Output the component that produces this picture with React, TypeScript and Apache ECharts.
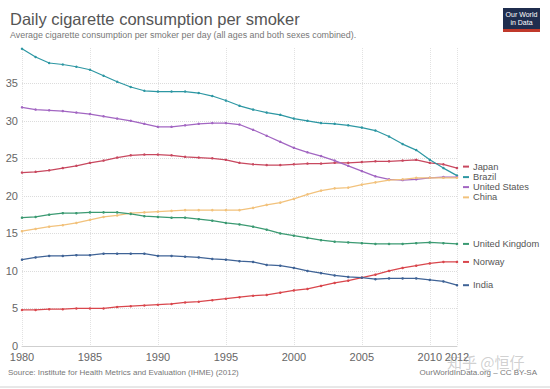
import React, { useEffect, useRef } from "react";
import * as echarts from "echarts";

const years = [1980,1981,1982,1983,1984,1985,1986,1987,1988,1989,1990,1991,1992,1993,1994,1995,1996,1997,1998,1999,2000,2001,2002,2003,2004,2005,2006,2007,2008,2009,2010,2011,2012];

const japan = [23.1,23.2,23.4,23.7,24.0,24.4,24.7,25.1,25.4,25.5,25.5,25.4,25.2,25.1,25.0,24.8,24.4,24.2,24.1,24.1,24.2,24.3,24.3,24.4,24.4,24.5,24.6,24.6,24.7,24.8,24.4,24.2,23.7];
const brazil = [39.6,38.5,37.7,37.5,37.2,36.8,36.0,35.2,34.5,34.0,33.9,33.9,33.9,33.7,33.3,32.7,32.0,31.5,31.1,30.8,30.3,30.0,29.7,29.6,29.4,29.1,28.7,27.9,26.9,26.1,24.8,23.7,22.7];
const unitedStates = [31.8,31.5,31.4,31.3,31.1,30.9,30.6,30.3,30.0,29.6,29.2,29.2,29.4,29.6,29.7,29.7,29.5,28.8,28.0,27.2,26.4,25.8,25.3,24.7,24.0,23.3,22.6,22.2,22.1,22.2,22.4,22.5,22.5];
const china = [15.3,15.6,15.9,16.1,16.4,16.8,17.2,17.4,17.7,17.8,17.9,18.0,18.1,18.1,18.1,18.1,18.1,18.4,18.8,19.1,19.6,20.2,20.7,21.0,21.1,21.5,21.8,22.1,22.2,22.4,22.4,22.4,22.4];
const unitedKingdom = [17.1,17.2,17.5,17.7,17.7,17.8,17.8,17.8,17.6,17.3,17.2,17.1,17.1,16.9,16.7,16.4,16.2,15.9,15.5,15.0,14.7,14.4,14.1,13.9,13.8,13.7,13.6,13.6,13.6,13.7,13.8,13.7,13.6];
const norway = [4.8,4.8,4.9,4.9,5.0,5.0,5.0,5.2,5.3,5.4,5.5,5.6,5.8,5.9,6.1,6.3,6.5,6.7,6.8,7.1,7.4,7.6,8.0,8.4,8.7,9.1,9.5,10.0,10.4,10.7,11.0,11.2,11.2];
const india = [11.5,11.8,12.0,12.0,12.1,12.1,12.3,12.3,12.3,12.3,12.0,12.0,11.9,11.8,11.6,11.5,11.3,11.2,10.8,10.7,10.4,10.0,9.7,9.4,9.2,9.1,8.9,9.0,9.0,9.0,8.8,8.6,8.1];

const seriesNames = ["Japan", "Brazil", "United States", "China", "United Kingdom", "Norway", "India"];
const seriesValues = [japan, brazil, unitedStates, china, unitedKingdom, norway, india];
const yGridTicks = [5, 10, 15, 20, 25, 30, 35];

const colors = ["#c8485f", "#2d97a3", "#a266c2", "#f2c27c", "#3b9a72", "#d9464c", "#3f6396"];
const labelOffsets = [[0, -1.5], [0, 1.5], [0, 10], [0, 19.5], [0, 0], [0, 0], [0, 0]];

const FONT = "'Liberation Sans', Arial, sans-serif";

export default function App() {
  const ref = useRef<HTMLDivElement>(null);
  useEffect(() => {
    if (!ref.current) return;
    const chart = echarts.init(ref.current, undefined, { renderer: "svg" });
    const series: any[] = seriesNames.map((name, i) => ({
      name,
      type: "line",
      data: years.map((y, k) => [y, seriesValues[i][k]]),
      showSymbol: true,
      symbol: "circle",
      symbolSize: 2.5,
      lineStyle: { color: colors[i], width: 1.2 },
      itemStyle: { color: colors[i] },
      z: 3,
      endLabel: {
        show: true,
        distance: 6,
        offset: labelOffsets[i],
        formatter: () => `{d|}{n|${name}}`,
        rich: {
          d: { backgroundColor: colors[i], width: 6, height: 2 },
          n: { color: "#555", fontSize: 9.3, lineHeight: 9, fontFamily: FONT, padding: [0, 0, 0, 4] },
        },
      },
      markLine: i === 0 ? {
        silent: true,
        symbol: ["none", "none"],
        label: { show: false },
        lineStyle: { color: "#dcdcdc", type: "dotted", width: 1 },
        data: yGridTicks.map((v) => ({ yAxis: v })),
        z: 1,
      } : undefined,
    }));
    chart.setOption({
      animation: false,
      backgroundColor: "#fff",
      textStyle: { fontFamily: FONT },
      title: {
        text: "Daily cigarette consumption per smoker",
        subtext: "Average cigarette consumption per smoker per day (all ages and both sexes combined).",
        left: 5,
        top: 5,
        itemGap: 3,
        textStyle: { fontSize: 16.5, fontWeight: "normal", color: "#555", fontFamily: FONT },
        subtextStyle: { fontSize: 8.9, color: "#777", fontFamily: FONT },
      },
      grid: { left: 22, right: 93, top: 48, bottom: 43, containLabel: false },
      xAxis: {
        type: "value",
        min: 1980,
        max: 2012,
        interval: 5,
        axisLine: { show: true, lineStyle: { color: "#cfcfcf" } },
        axisTick: { show: false },
        axisLabel: { color: "#666", fontSize: 11, margin: 5, formatter: (v: number) => String(v) },
        splitLine: { show: true, lineStyle: { color: "#e2e2e2", type: "dotted" } },
      },
      yAxis: {
        type: "value",
        min: 0,
        max: 39.7,
        interval: 5,
        axisLine: { show: false },
        axisTick: { show: false },
        axisLabel: {
          color: "#666",
          fontSize: 11,
          margin: 4,
          formatter: (v: number) => (v % 5 === 0 ? String(v) : ""),
        },
        splitLine: { show: false },
      },
      series,
      graphic: [
        {
          type: "text",
          left: 8,
          top: 368,
          style: { text: "Source: Institute for Health Metrics and Evaluation (IHME) (2012)", fill: "#777", fontSize: 8, fontFamily: FONT },
        },
        {
          type: "text",
          right: 13,
          top: 368,
          style: { text: "OurWorldInData.org – CC BY-SA", fill: "#777", fontSize: 8, fontFamily: FONT },
        },
        {
          type: "text",
          left: 447,
          top: 354,
          style: { text: "知乎 @恒仔", fill: "rgba(150,150,150,0.45)", fontSize: 15, fontFamily: "'Noto Sans CJK SC', sans-serif" },
          z: 10,
        },
        {
          type: "group",
          left: 503,
          top: 8,
          children: [
            { type: "rect", shape: { x: 0, y: 0, width: 37, height: 24 }, style: { fill: "#1f2d4e" } },
            { type: "rect", shape: { x: 0, y: 21, width: 37, height: 3 }, style: { fill: "#c0392b" } },
            { type: "text", style: { x: 18.5, y: 3, text: "Our World", fill: "#fff", fontSize: 7, align: "center", fontFamily: FONT } },
            { type: "text", style: { x: 18.5, y: 11, text: "in Data", fill: "#fff", fontSize: 7, align: "center", fontFamily: FONT } },
          ],
        },
        {
          type: "line",
          shape: { x1: 0, y1: 387, x2: 550, y2: 387 },
          style: { stroke: "#d0d0d0", lineWidth: 1 },
        },
      ],
    });
    return () => chart.dispose();
  }, []);
  return (
    <div
      ref={ref}
      style={{ position: "fixed", left: 0, top: 0, width: 550, height: 389, background: "#fff" }}
    />
  );
}
